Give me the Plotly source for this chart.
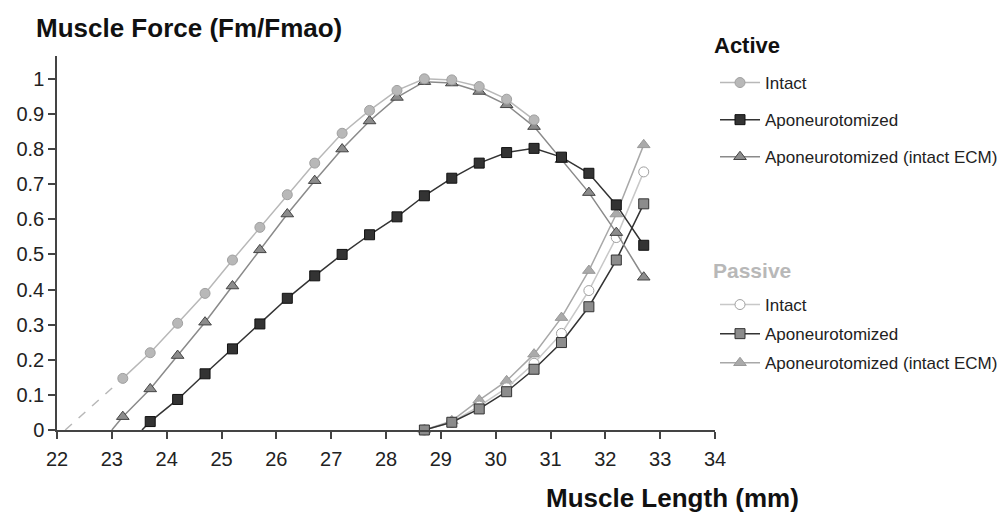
import plotly.graph_objects as go

# ---------------- data ----------------
length = [23.2, 23.7, 24.2, 24.7, 25.2, 25.7, 26.2, 26.7, 27.2, 27.7, 28.2, 28.7, 29.2, 29.7, 30.2, 30.7,
          31.2, 31.7, 32.2, 32.7]

active_intact_x = length[:16]
active_intact = [0.147, 0.22, 0.304, 0.389, 0.484, 0.577, 0.67, 0.76, 0.845, 0.91, 0.967, 1.0,
                 0.997, 0.978, 0.942, 0.883]

active_apo_x = length[1:]
active_apo = [0.024, 0.087, 0.16, 0.231, 0.302, 0.375, 0.439, 0.50, 0.556, 0.607, 0.667, 0.717,
              0.76, 0.79, 0.802, 0.777, 0.731, 0.641, 0.526]

active_ecm_x = length
active_ecm = [0.038, 0.117, 0.212, 0.307, 0.41, 0.513, 0.615, 0.71, 0.80, 0.88, 0.947, 0.992,
              0.988, 0.964, 0.926, 0.864, 0.77, 0.676, 0.562, 0.435]

# extrapolated starts towards zero force
intact_ext_x = [22.15, 23.2]
intact_ext_y = [0.0, 0.147]
ecm_ext_x = [23.0, 23.2]
ecm_ext_y = [0.0, 0.038]
apo_ext_x = [23.55, 23.7]
apo_ext_y = [0.0, 0.024]

passive_x = length[11:]
passive_intact = [0.0, 0.022, 0.068, 0.12, 0.19, 0.275, 0.397, 0.548, 0.735]
passive_apo = [0.0, 0.022, 0.06, 0.109, 0.173, 0.249, 0.351, 0.484, 0.644]
passive_ecm = [0.0, 0.026, 0.085, 0.14, 0.216, 0.32, 0.454, 0.615, 0.812]

x_ticks = list(range(22, 35))
y_ticks = [0, 0.1, 0.2, 0.3, 0.4, 0.5, 0.6, 0.7, 0.8, 0.9, 1]
y_tick_text = ["0", "0.1", "0.2", "0.3", "0.4", "0.5", "0.6", "0.7", "0.8", "0.9", "1"]

FONT = "Liberation Sans, Arial, sans-serif"

fig = go.Figure()

# extrapolation segments
fig.add_trace(go.Scatter(x=intact_ext_x, y=intact_ext_y, mode="lines", showlegend=False,
                         line=dict(color="#b8b8b8", width=1.5, dash="dash"), cliponaxis=False))
fig.add_trace(go.Scatter(x=ecm_ext_x, y=ecm_ext_y, mode="lines", showlegend=False,
                         line=dict(color="#8a8a8a", width=1.5), cliponaxis=False))
fig.add_trace(go.Scatter(x=apo_ext_x, y=apo_ext_y, mode="lines", showlegend=False,
                         line=dict(color="#333333", width=1.5), cliponaxis=False))

# passive traces
fig.add_trace(go.Scatter(x=passive_x, y=passive_ecm, mode="lines+markers",
                         name="Aponeurotomized (intact ECM)", legend="legend2", legendrank=3,
                         legendgroup="p3",
                         line=dict(color="#a8a8a8", width=1.5),
                         marker=dict(symbol="triangle-up", size=11, color="#aaaaaa",
                                     line=dict(color="#999999", width=1)), cliponaxis=False))
fig.add_trace(go.Scatter(x=passive_x, y=passive_intact, mode="lines+markers",
                         name="Intact", legend="legend2", legendrank=1, legendgroup="p1",
                         line=dict(color="#c8c8c8", width=1.5),
                         marker=dict(symbol="circle", size=10, color="#ffffff",
                                     line=dict(color="#a0a0a0", width=1)), cliponaxis=False))
fig.add_trace(go.Scatter(x=passive_x, y=passive_apo, mode="lines+markers",
                         name="Aponeurotomized", legend="legend2", legendrank=2, legendgroup="p2",
                         line=dict(color="#333333", width=1.5),
                         marker=dict(symbol="square", size=10, color="#8c8c8c",
                                     line=dict(color="#333333", width=1)), cliponaxis=False))

# active traces
fig.add_trace(go.Scatter(x=active_ecm_x, y=active_ecm, mode="lines+markers",
                         name="Aponeurotomized (intact ECM)", legend="legend", legendrank=3,
                         legendgroup="a3",
                         line=dict(color="#8a8a8a", width=1.5),
                         marker=dict(symbol="triangle-up", size=11, color="#8c8c8c",
                                     line=dict(color="#444444", width=1)), cliponaxis=False))
fig.add_trace(go.Scatter(x=active_intact_x, y=active_intact, mode="lines+markers",
                         name="Intact", legend="legend", legendrank=1, legendgroup="a1",
                         line=dict(color="#b8b8b8", width=1.5),
                         marker=dict(symbol="circle", size=10, color="#b8b8b8",
                                     line=dict(color="#a0a0a0", width=1)), cliponaxis=False))
fig.add_trace(go.Scatter(x=active_apo_x, y=active_apo, mode="lines+markers",
                         name="Aponeurotomized", legend="legend", legendrank=2, legendgroup="a2",
                         line=dict(color="#333333", width=1.5),
                         marker=dict(symbol="square", size=10, color="#333333",
                                     line=dict(color="#111111", width=1)), cliponaxis=False))

fig.update_layout(
    width=1000, height=520,
    margin=dict(l=57, r=285, t=56, b=90, autoexpand=False),
    paper_bgcolor="white", plot_bgcolor="white",
    font=dict(family=FONT, color="#222222"),
    xaxis=dict(range=[22, 34], tickvals=x_ticks, ticks="outside", ticklen=7, tickwidth=1.5,
               tickcolor="#444444", showline=True, linecolor="#444444", linewidth=1.5,
               showgrid=False, zeroline=False, ticklabelstandoff=3,
               tickfont=dict(size=20, color="#222222", family=FONT)),
    yaxis=dict(range=[0, 1.065], tickvals=y_ticks, ticktext=y_tick_text, ticks="outside", ticklen=7,
               tickwidth=1.5, tickcolor="#444444", showline=True, linecolor="#444444", linewidth=1.5,
               showgrid=False, zeroline=False, tickfont=dict(size=20, color="#222222", family=FONT)),
    legend=dict(xref="container", yref="container", x=0.715, y=1 - 65 / 520,
                xanchor="left", yanchor="top", traceorder="grouped", tracegroupgap=12,
                itemwidth=40, font=dict(size=17, color="#222222", family=FONT),
                bgcolor="rgba(0,0,0,0)"),
    legend2=dict(xref="container", yref="container", x=0.715, y=1 - 287 / 520,
                 xanchor="left", yanchor="top", traceorder="grouped", tracegroupgap=4,
                 itemwidth=40, font=dict(size=17, color="#222222", family=FONT),
                 bgcolor="rgba(0,0,0,0)"),
    annotations=[
        dict(text="<b>Muscle Force (Fm/Fmao)</b>", xref="paper", yref="paper",
             x=(34 - 57) / 658, y=1 + (56 - 28) / 374, xanchor="left", yanchor="middle",
             showarrow=False, font=dict(size=26, color="#111111", family=FONT)),
        dict(text="<b>Muscle Length (mm)</b>", xref="paper", yref="paper",
             x=(544 - 57) / 658, y=-(498 - 430) / 374, xanchor="left", yanchor="middle",
             showarrow=False, font=dict(size=26, color="#111111", family=FONT)),
        dict(text="<b>Active</b>", xref="paper", yref="paper",
             x=(712 - 57) / 658, y=1 + (56 - 46) / 374, xanchor="left", yanchor="middle",
             showarrow=False, font=dict(size=22, color="#111111", family=FONT)),
        dict(text="<b>Passive</b>", xref="paper", yref="paper",
             x=(711 - 57) / 658, y=(430 - 270) / 374, xanchor="left", yanchor="middle",
             showarrow=False, font=dict(size=21, color="#b8b8b8", family=FONT)),
    ],
)

fig.write_html("out.html")
